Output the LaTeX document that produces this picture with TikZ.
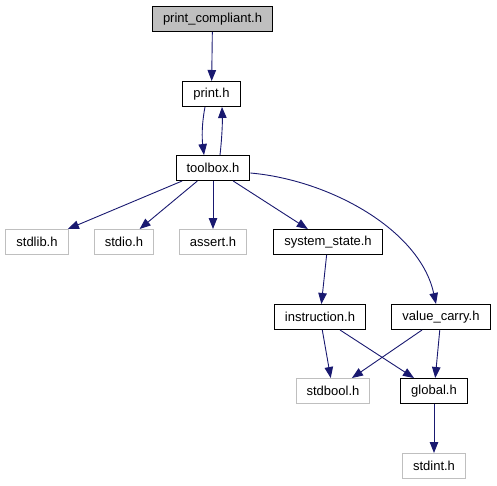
\documentclass[tikz,border=0pt]{standalone}
\usepackage{fontspec}
\setmainfont{Liberation Sans}
\usetikzlibrary{arrows.meta}
\definecolor{edgeblue}{HTML}{191970}
\definecolor{sysgray}{HTML}{BFBFBF}
\tikzset{
  hdr/.style={draw=black, line width=1pt, inner xsep=10.5pt, inner ysep=0pt, minimum height=25pt, font=\fontsize{13}{15}\selectfont, anchor=center},
  syshdr/.style={hdr, draw=sysgray},
  topbox/.style={hdr, fill=sysgray},
  dep/.style={draw=edgeblue, line width=0.9pt, -{Triangle[length=11pt,width=8.5pt]}, fill=none},
}
\begin{document}
\begin{tikzpicture}[x=1pt,y=-1pt]
\useasboundingbox (0,0) rectangle (497,485);
\node[topbox] (pc) at (212.5,19) {print\_compliant.h};
\node[hdr] (pr) at (211.5,94) {print.h};
\node[hdr] (tb) at (213,168) {toolbox.h};
\node[syshdr] (sl) at (37,242) {stdlib.h};
\node[syshdr] (si) at (124,242) {stdio.h};
\node[syshdr] (as) at (213,242) {assert.h};
\node[hdr] (ss) at (328,242) {system\_state.h};
\node[hdr] (in) at (320,317) {instruction.h};
\node[hdr] (vc) at (441,317) {value\_carry.h};
\node[syshdr] (sb) at (333,391) {stdbool.h};
\node[hdr] (gl) at (434,391) {global.h};
\node[syshdr] (sd) at (434,466) {stdint.h};

\draw[dep] (pc) -- (pr);
\draw[dep] ([xshift=-6.5pt]pr.south) .. controls ([xshift=-10pt,yshift=-18pt]pr.south) and ([xshift=-11pt,yshift=16pt]tb.north) .. ([xshift=-9pt]tb.north);
\draw[dep] ([xshift=7pt]tb.north) .. controls ([xshift=9pt,yshift=18pt]tb.north) and ([xshift=11pt,yshift=-16pt]pr.south) .. ([xshift=10.5pt]pr.south);
\draw[dep] (tb) -- (sl);
\draw[dep] (tb) -- (si);
\draw[dep] (tb) -- (as);
\draw[dep] (tb) -- (ss);
\draw[dep] ([yshift=-5pt]tb.east) .. controls (330,180) and (420,230) .. ([xshift=-5pt]vc.north);
\draw[dep] (ss) -- (in);
\draw[dep] (in) -- (sb);
\draw[dep] (in) -- (gl);
\draw[dep] (vc) -- (sb);
\draw[dep] (vc) -- (gl);
\draw[dep] (gl) -- (sd);
\end{tikzpicture}
\end{document}
